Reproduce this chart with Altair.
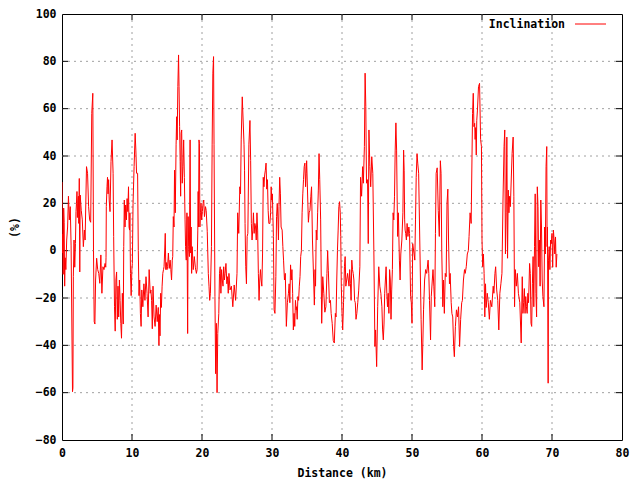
import altair as alt
import pandas as pd

series_name = "Inclination"
x_title = "Distance (km)"
y_title = "(%)"
x_tick_values = [0, 10, 20, 30, 40, 50, 60, 70, 80]
y_tick_values = [-80, -60, -40, -20, 0, 20, 40, 60, 80, 100]

# (distance km, inclination %), in segments
seg_0_6 = [(0.0, 29), (0.05, -1), (0.1, 7), (0.17, -10), (0.24, 18), (0.31, 12), (0.38, -15), (0.45, -3),
           (0.55, -8), (0.67, 4.5), (0.8, 10), (0.92, 23), (1.05, 13), (1.18, 18.6), (1.3, 2), (1.5, -59.6),
           (1.56, -58), (1.62, -11), (1.72, 4.5), (1.82, -7), (1.92, 3), (2.0, 16.5), (2.07, 20), (2.14, 25),
           (2.2, 14), (2.27, 21), (2.34, 23), (2.4, 11.5), (2.47, 30.5), (2.54, -9), (2.6, 23.5), (2.75, 17),
           (2.9, 13), (3.05, 1.7), (3.2, 8.7), (3.3, 4.5), (3.5, 35.5), (3.65, 32.7), (3.8, 18.6), (3.95, 13),
           (4.1, 12), (4.25, 58), (4.4, 66.5), (4.5, 0), (4.6, -30), (4.7, -31), (4.8, -12.4), (4.95, -3.2),
           (5.1, -8), (5.25, -9.6), (5.4, -13.8), (5.55, -1.8), (5.7, -18), (5.85, -6.8), (6.0, -8),
           (6.15, -5.4), (6.25, -7)]
seg_6_13 = [(6.29, -3), (6.33, 18.6), (6.43, 27), (6.5, 31), (6.58, 24), (6.66, 30), (6.75, 21), (6.86, 16.5),
            (7.0, 37.6), (7.15, 46.8), (7.3, 32.7), (7.38, 6), (7.5, -23.7), (7.6, -34), (7.7, -12.4), (7.8, -9),
            (7.9, -29), (8.0, -15), (8.1, -28), (8.2, -12.4), (8.3, -21), (8.4, -30.7), (8.5, -37), (8.62, -18),
            (8.75, -31), (8.82, 1.7), (8.9, 21.4), (9.0, 10), (9.1, 19.3), (9.2, 13), (9.3, 22), (9.4, 16.5),
            (9.5, 27), (9.58, 10), (9.65, 8.7), (9.7, 16), (9.78, -9.6), (9.88, -19), (9.98, -8), (10.05, -5.4),
            (10.15, 20), (10.3, 35.5), (10.45, 49.6), (10.55, 42.5), (10.65, 32.7), (10.8, 32.7), (10.9, 0),
            (11.0, -19), (11.1, -12.4), (11.2, -26.5), (11.3, -32), (11.4, -16.6), (11.55, -23.7), (11.7, -14),
            (11.85, -21), (12.0, -11), (12.15, -18), (12.3, -28), (12.45, -8), (12.6, -18), (12.7, -16.6),
            (12.8, -21)]
seg_13_19 = [(12.9, -33), (13.0, -15), (13.15, -28), (13.3, -32), (13.45, -23), (13.6, -30), (13.75, -24),
             (13.85, -40), (13.92, -27), (14.0, -36), (14.1, -18), (14.2, -24), (14.3, -15), (14.4, -9.6),
             (14.5, -8), (14.58, -6.8), (14.67, 0), (14.75, 7.3), (14.83, -8), (14.9, -5), (15.0, -8),
             (15.08, -6.8), (15.2, -1), (15.32, -7.5), (15.45, -4), (15.55, -8), (15.65, -12.4), (15.75, -4),
             (15.82, -2.5), (15.9, 14.4), (16.0, 10), (16.08, 34), (16.18, 16), (16.3, 45), (16.38, 56.6),
             (16.45, 46.8), (16.55, 69.3), (16.65, 82.7), (16.72, 69.3), (16.8, 52.4), (16.88, 37.6), (16.95, 23),
             (17.02, 49.6), (17.1, 51), (17.18, 28.5), (17.28, 35.5), (17.38, 46.8), (17.48, 31), (17.58, 13),
             (17.65, 1.7), (17.75, -4), (17.85, 16), (17.95, -35), (18.02, 14.4), (18.1, 1.7), (18.2, -2.5),
             (18.3, 46.8), (18.38, -1), (18.45, 10), (18.52, -9.6), (18.6, 1.7), (18.75, -8), (18.9, -2.5),
             (19.05, -7), (19.2, -9.6), (19.3, -8), (19.4, 8.7)]
seg_19_26 = [(19.45, 25), (19.5, 10), (19.57, 46.8), (19.63, 45.4), (19.7, 10), (19.78, 16), (19.86, 20),
             (19.95, 13), (20.05, 16.5), (20.15, 20), (20.25, 21.4), (20.35, 14.4), (20.5, 18.6), (20.6, 17),
             (20.75, 8), (20.9, -9.6), (21.0, -15), (21.1, -21), (21.2, -18), (21.35, 1.7), (21.45, 45),
             (21.55, 75), (21.65, 82), (21.72, 45), (21.85, -19.4), (21.95, -52), (22.05, -30.7), (22.15, -60),
             (22.25, -35), (22.4, -26.5), (22.5, -9.6), (22.6, -6.8), (22.7, -18), (22.8, -8), (22.9, -12.4),
             (23.0, -15), (23.1, -6.8), (23.2, -12.4), (23.3, -9.6), (23.42, -5.4), (23.55, -14), (23.65, -11),
             (23.75, -18), (23.85, -9.6), (24.0, -16.6), (24.2, -15), (24.4, -23.7), (24.6, -14.5), (24.8, -21),
             (25.0, -9.6), (25.1, 16), (25.25, 7.3), (25.4, 27), (25.5, 24), (25.6, 46.8), (25.75, 65)]
seg_26_33 = [(26.0, 45), (26.08, 34), (26.15, 11.5), (26.25, -6.8), (26.35, -14), (26.45, 6), (26.55, 7.3),
             (26.7, 45), (26.85, 55), (26.95, 38), (27.05, 11.5), (27.15, 4.5), (27.25, 8.7), (27.35, 16),
             (27.45, 7.3), (27.55, 11.5), (27.65, 10), (27.75, 4.5), (27.85, 16), (27.95, 8.7), (28.05, -9.6),
             (28.15, -21), (28.25, -12.4), (28.35, -8), (28.45, -12.4), (28.55, -15), (28.65, -1.4), (28.75, 31),
             (28.85, 27), (28.95, 32), (29.05, 34), (29.15, 37), (29.25, 26), (29.35, 30), (29.45, 17),
             (29.55, 11.5), (29.7, 11.5), (29.8, 16), (29.88, 27), (29.96, 21.4), (30.05, 24), (30.2, 6),
             (30.3, -25), (30.42, -26.5), (30.55, -11), (30.65, 14.4), (30.75, 20), (30.85, 13), (30.92, 4.5),
             (31.0, 18.6), (31.1, 31), (31.2, 24), (31.3, 10), (31.45, 8.7), (31.55, 1.7), (31.65, -4),
             (31.78, -12.4), (31.9, -9.6), (32.05, -32), (32.2, -22), (32.35, -18), (32.45, -14), (32.55, -22)]
seg_33_39 = [(32.65, -6), (32.75, -12.4), (32.85, -8), (32.95, -18), (33.05, -33.5), (33.15, -26.5),
             (33.25, -32), (33.35, -21), (33.45, -25), (33.5, -23.7), (33.6, -29), (33.7, -19.4), (33.8, -21),
             (33.9, -15), (34.0, -11), (34.1, -2.5), (34.2, 0), (34.3, 16), (34.4, 24), (34.5, 30), (34.6, 35.5),
             (34.7, 37), (34.8, 27), (34.88, 32.7), (34.95, 38), (35.2, 12), (35.3, 16), (35.42, 17), (35.55, 23),
             (35.65, 27), (35.78, 4.5), (35.95, -12.4), (36.05, -23), (36.15, -8), (36.22, -15), (36.32, 8.7),
             (36.42, 4.5), (36.52, 16), (36.62, 25.6), (36.72, 41), (36.82, 30), (36.95, 13), (37.1, -30.7),
             (37.25, -11), (37.4, -18), (37.55, -26), (37.7, -23.7), (37.85, -9.6), (37.95, 0), (38.05, -8.5),
             (38.2, -22), (38.35, -21), (38.45, -26.5), (38.6, -30.7), (38.75, -38), (38.9, -39), (39.05, -26.5)]
seg_39_46 = [(39.15, -28), (39.25, -12.4), (39.35, 0), (39.45, 8.7), (39.55, 18.6), (39.65, 20.7), (39.75, 16),
             (39.82, 6), (39.9, -15), (40.0, -26.5), (40.1, -33.5), (40.22, -22), (40.35, -6.8), (40.45, -2.5),
             (40.55, -15), (40.8, -9.6), (40.9, -12.4), (41.0, -15), (41.1, -8), (41.2, -13.8), (41.3, -21),
             (41.4, -4), (41.5, -8), (41.6, -9.6), (41.7, -12.4), (41.8, -21), (41.9, -22), (42.0, -29),
             (42.12, -26.5), (42.25, -22), (42.38, -17), (42.55, -6.8), (42.65, 31), (42.8, 23), (42.95, 35.5),
             (43.05, 28.5), (43.2, 44), (43.3, 75), (43.4, 61), (43.5, 28.5), (43.65, 30), (43.75, 3), (43.85, 51),
             (43.98, 35.5), (44.1, 27), (44.25, 39.7), (44.4, 32.7), (44.55, 0), (44.7, -40.5), (44.8, -33.5),
             (44.95, -49), (45.1, -23.7), (45.25, -6.8), (45.4, -15), (45.55, -18)]
seg_46_52 = [(45.7, -23.7), (45.8, -33.5), (45.9, -37.7), (46.0, -31), (46.1, -18), (46.2, -12.4), (46.3, -6.8),
             (46.4, -18), (46.5, -23.7), (46.6, -18), (46.7, -26.5), (46.8, -8), (46.9, -12.4), (47.0, -29),
             (47.1, -16.6), (47.2, -8), (47.3, 16), (47.4, 13), (47.5, 23), (47.6, 42.5), (47.7, 54), (47.8, 42.5),
             (47.88, 21.4), (47.95, 6), (48.05, 16), (48.2, -4), (48.3, -12.4), (48.4, -1.4), (48.55, 4.5),
             (48.7, 16), (48.8, 42.5), (48.88, 34), (48.95, 13), (49.02, 8.7), (49.1, 7.3), (49.2, 4.5),
             (49.3, 11.5), (49.42, 6), (49.55, 10), (49.65, 7.3), (49.8, -19.4), (49.9, -22), (50.0, -30.7),
             (50.1, 3), (50.3, -1.4), (50.4, -4), (50.5, 13), (50.6, 31), (50.72, 41), (50.82, 37), (50.95, 32.7),
             (51.3, -29), (51.45, -50.4), (51.55, -39), (51.65, -25), (51.8, -12.4), (51.95, -8), (52.1, -9.6)]
seg_52_59 = [(52.3, -4), (52.4, -9.6), (52.5, -21), (52.65, -37.7), (52.75, -19.4), (52.9, -12.4), (53.0, -8),
             (53.12, -15), (53.25, -23.7), (53.35, 7.3), (53.45, 32.7), (53.6, 35), (53.75, 17), (53.9, 6),
             (54.05, 38), (54.15, 32.7), (54.25, 0), (54.4, -23.7), (54.5, -12.4), (54.62, -26.5), (54.75, -9.6),
             (54.88, -11), (55.0, 20), (55.12, 26), (55.22, 4.5), (55.35, -14), (55.45, -9.6), (55.6, -22),
             (55.7, -26.5), (55.82, -28), (55.95, -40.5), (56.05, -44.8), (56.2, -32), (56.35, -25), (56.5, -28),
             (56.65, -23.7), (56.8, -40.5), (56.95, -29), (57.1, -22), (57.2, -21), (57.35, -12.4), (57.5, -8),
             (57.6, -9.6), (57.75, -6.8), (57.9, -1.4), (58.05, 0), (58.15, 6), (58.3, 16), (58.45, 11.5),
             (58.65, 58), (58.75, 66.5), (58.85, 52.4)]
seg_59_65 = [(58.95, 53.8), (59.02, 47), (59.1, 52), (59.18, 40.4), (59.25, 55), (59.35, 59.4), (59.5, 69.3),
             (59.65, 70.7), (59.8, 47), (59.92, 44), (60.0, 4.5), (60.1, -6.8), (60.2, -1.4), (60.3, -9.6),
             (60.4, -28), (60.5, -14), (60.6, -24), (60.75, -18), (60.9, -22), (61.05, -29), (61.2, -21),
             (61.4, -23.7), (61.6, -15), (61.7, -18), (61.85, -9.6), (61.95, -6.8), (62.1, -16.6), (62.25, -21),
             (62.4, -33.5), (62.55, -18), (62.7, -14), (62.85, -9.6), (63.0, 21.4), (63.15, 44), (63.25, 51),
             (63.35, -1.4), (63.45, 16), (63.55, 48), (63.65, -3.2), (63.75, 25.6), (63.85, 16), (63.95, 23),
             (64.05, 18.6), (64.3, 41), (64.45, 48), (64.55, 23), (64.65, -23.7), (64.75, -8), (64.9, -15),
             (65.05, -9.6), (65.2, -18)]
seg_65_71 = [(65.4, -22), (65.6, -39), (65.75, -11), (65.85, -26.5), (65.95, -22), (66.05, -16), (66.15, -26.5),
             (66.25, -19.4), (66.35, -23.7), (66.45, -26.5), (66.55, -18), (66.65, -22), (66.8, -5.4), (66.9, -9.6),
             (67.0, -30.7), (67.1, -32), (67.2, -14), (67.3, -2.5), (67.4, -23.7), (67.5, 1.7), (67.6, 24),
             (67.7, -18), (67.8, -28), (67.9, 27), (68.0, 18.6), (68.1, -6.8), (68.2, 4.5), (68.3, -15),
             (68.4, 21.4), (68.5, 10), (68.6, -12.4), (68.7, -19.4), (68.85, -23.7), (68.95, 10), (69.05, -1.4),
             (69.15, 35.5), (69.25, 44), (69.3, 1.7), (69.35, 10), (69.45, -56), (69.5, -4), (69.6, 1.7),
             (69.7, -8), (69.8, 4.5), (69.9, 3), (70.0, 7.3), (70.1, -7), (70.2, 8.7), (70.3, 4.5), (70.4, -1.4),
             (70.5, 5.8), (70.6, -7), (70.7, -1.4)]

segments = [seg_0_6, seg_6_13, seg_13_19, seg_19_26, seg_26_33, seg_33_39,
            seg_39_46, seg_46_52, seg_52_59, seg_59_65, seg_65_71]
df = pd.DataFrame([{"km": k, "pct": v} for seg in segments for k, v in seg])

W, H = 560, 426
FONT = "DejaVu Sans Mono"
FS = 11.5
xs = alt.Scale(domain=[0, 80], nice=False, zero=False)
ys = alt.Scale(domain=[-80, 100], nice=False, zero=False)

AX = dict(grid=False, ticks=False, domain=False, labelFlush=False, labelOverlap=False,
          labelFont=FONT, labelFontSize=FS, labelFontWeight="bold", labelColor="black",
          titleFont=FONT, titleFontSize=FS, titleFontWeight="bold", titleColor="black")
x_axis = alt.Axis(values=x_tick_values, title=x_title, labelPadding=7, titlePadding=9, **AX)
y_axis = alt.Axis(values=y_tick_values, title=y_title, labelPadding=6, titlePadding=15, **AX)

# tick length of 6 px expressed in data units of each scale
tkx = 6 * 80 / W
tky = 6 * 180 / H

grid_x = pd.DataFrame({"v": [v for v in x_tick_values if 0 < v < 80]})
grid_y = pd.DataFrame({"v": [v for v in y_tick_values if -80 < v < 100]})
grid_x["b0"], grid_x["b1"], grid_x["t0"], grid_x["t1"] = -80, -80 + tky, 100 - tky, 100
grid_y["l0"], grid_y["l1"], grid_y["r0"], grid_y["r1"] = 0, tkx, 80 - tkx, 80
GRID = dict(color="#a0a0a0", strokeWidth=1, strokeDash=[2, 4])

gx = alt.Chart(grid_x).mark_rule(**GRID).encode(x=alt.X("v:Q", scale=xs, axis=x_axis))
gy = alt.Chart(grid_y).mark_rule(**GRID).encode(y=alt.Y("v:Q", scale=ys, axis=y_axis))

tick_b = alt.Chart(grid_x).mark_rule(color="black").encode(
    x=alt.X("v:Q", scale=xs, axis=x_axis), y=alt.Y("b0:Q", scale=ys, axis=y_axis), y2="b1:Q")
tick_t = alt.Chart(grid_x).mark_rule(color="black").encode(
    x=alt.X("v:Q", scale=xs, axis=x_axis), y=alt.Y("t0:Q", scale=ys, axis=y_axis), y2="t1:Q")
tick_l = alt.Chart(grid_y).mark_rule(color="black").encode(
    y=alt.Y("v:Q", scale=ys, axis=y_axis), x=alt.X("l0:Q", scale=xs, axis=x_axis), x2="l1:Q")
tick_r = alt.Chart(grid_y).mark_rule(color="black").encode(
    y=alt.Y("v:Q", scale=ys, axis=y_axis), x=alt.X("r0:Q", scale=xs, axis=x_axis), x2="r1:Q")

line = alt.Chart(df).mark_line(color="#ff0000", strokeWidth=1, clip=True).encode(
    x=alt.X("km:Q", scale=xs, axis=x_axis),
    y=alt.Y("pct:Q", scale=ys, axis=y_axis),
)

legend_df = pd.DataFrame({"name": [series_name]})
leg_text = alt.Chart(legend_df).mark_text(
    font=FONT, fontSize=FS, fontWeight="bold", align="right", baseline="middle", color="black"
).encode(text="name:N", x=alt.value(503), y=alt.value(11))
leg_line = alt.Chart(legend_df).mark_rule(color="#ff0000", strokeWidth=1).encode(
    x=alt.value(513), x2=alt.value(544), y=alt.value(10))

chart = alt.layer(gx, gy, tick_b, tick_t, tick_l, tick_r, line, leg_text, leg_line).properties(
    width=W, height=H, autosize="none",
    padding={"left": 54, "top": 6, "right": 10, "bottom": 40},
    background="white",
).configure_view(stroke="black", strokeWidth=1)

chart.save("out.html", embed_options={"renderer": "svg", "actions": False})
